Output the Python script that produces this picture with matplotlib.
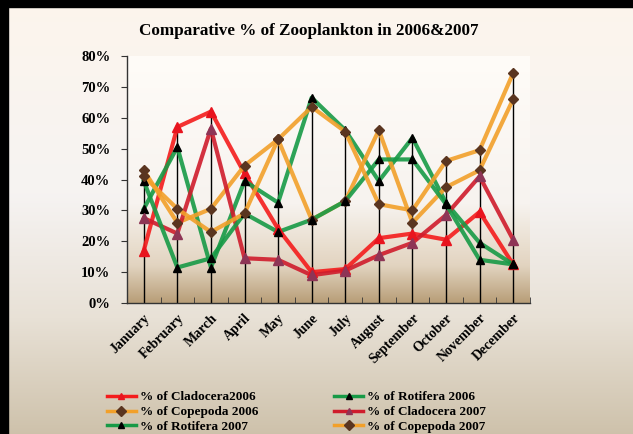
import numpy as np
import matplotlib

matplotlib.use('Agg')
import matplotlib.pyplot as plt
from matplotlib.patches import Rectangle
from matplotlib.lines import Line2D

months = ['January', 'February', 'March', 'April', 'May', 'June', 'July',
          'August', 'September', 'October', 'November', 'December']

clad06 = [17, 57, 62, 42, 24, 10, 11, 21, 22.5, 20.5, 29.5, 12.5]
clad07 = [27.5, 22.5, 56.5, 14.5, 14, 9, 10.5, 15.5, 19.5, 28.5, 41, 20.5]
rot06 = [30.5, 50.5, 11.5, 39.5, 32.5, 66.5, 56, 39.5, 53.5, 32.5, 19.5, 12.5]
rot07 = [39.5, 11.5, 14.5, 29, 23, 27, 33, 46.5, 46.5, 32, 14, 12.5]
cop06 = [43, 26, 30.5, 44.5, 53, 27, 33, 56, 26, 37.5, 43, 66]
cop07 = [41, 30.5, 23, 29, 53, 63.5, 55.5, 32, 30, 46, 49.5, 74.5]

yticks = [0, 10, 20, 30, 40, 50, 60, 70, 80]

serif = ['Liberation Serif', 'DejaVu Serif']
plt.rcParams['font.family'] = serif
plt.rcParams['font.weight'] = 'bold'


def gradient(stops, n=256):
    pos = [s[0] for s in stops]
    t = np.linspace(0, 1, n)
    cols = np.zeros((n, 2, 3))
    for c in range(3):
        cols[:, :, c] = np.interp(t, pos, [s[1][c] / 255 for s in stops])[:, None]
    return cols


fig = plt.figure(figsize=(6.33, 4.34), dpi=100, facecolor='#E6DED2')

# slide background
bg = fig.add_axes([-0.02, -0.02, 1.04, 1.04], zorder=-10)
bg.imshow(gradient([(0, (253, 245, 236)), (0.45, (246, 243, 242)),
                    (0.72, (232, 225, 214)), (1, (203, 190, 166))]),
          aspect='auto', extent=[0, 1, 0, 1], interpolation='bilinear')
bg.set_xlim(0.01, 0.99)
bg.set_ylim(0.01, 0.99)
bg.axis('off')
fig.patches.append(Rectangle((0, 0.985), 1, 0.015, transform=fig.transFigure,
                             color='black', zorder=5))
fig.patches.append(Rectangle((0, 0), 0.012, 1, transform=fig.transFigure,
                             color='black', zorder=5))

ax = fig.add_axes([0.2006, 0.3018, 0.6366, 0.5692])
ax.set_facecolor('none')
ax.imshow(gradient([(0, (255, 252, 248)), (0.6, (247, 243, 239)),
                    (0.85, (226, 212, 192)), (1, (184, 158, 120))]),
          aspect='auto', extent=[-0.5, 11.5, 0, 80], zorder=0,
          interpolation='bilinear')

x = np.arange(len(months))
tops = np.max([clad06, clad07, rot06, rot07, cop06, cop07], axis=0)
ax.vlines(x, 0, tops, color='black', lw=1, zorder=2)

series = [
    ('% of Cladocera2006', clad06, '#F41C1C', '^', '#E8141E', 7),
    ('% of Rotifera 2006', rot06, '#179A46', '^', 'black', 6),
    ('% of Copepoda 2006', cop06, '#F2A02A', 'D', '#5A3520', 5),
    ('% of Cladocera 2007', clad07, '#CF1C2C', '^', '#8E3556', 7),
    ('% of Rotifera 2007', rot07, '#179A46', '^', 'black', 6),
    ('% of Copepoda 2007', cop07, '#F2A02A', 'D', '#5A3520', 5),
]

handles = []
for label, vals, col, mk, mcol, ms in series:
    ax.plot(x, vals, color=col, lw=3, alpha=0.9, zorder=3,
            solid_joinstyle='round')
    ax.plot(x, vals, ls='none', marker=mk, ms=ms, color=mcol, mec=mcol,
            zorder=4)
    handles.append(Line2D([], [], color=col, lw=2.5, marker=mk, ms=5,
                          mfc=mcol, mec=mcol, label=label))

ax.set_xlim(-0.5, 11.5)
ax.set_ylim(0, 80)
ax.set_yticks(yticks)
ax.set_yticklabels([f'{v}%' for v in yticks], fontsize=10.5,
                   fontweight='bold')
ax.set_xticks(x)
ax.set_xticklabels(months, rotation=45, ha='right', va='top',
                   rotation_mode='anchor', fontsize=10, fontweight='bold')
ax.set_xticks(np.arange(-0.5, 12, 1), minor=True)
ax.tick_params(axis='x', which='major', length=0, pad=6)
ax.tick_params(axis='x', which='minor', direction='in', length=4,
               color='#333333')
ax.tick_params(axis='y', direction='out', length=4, color='#333333', pad=8)
for s in ['top', 'right']:
    ax.spines[s].set_visible(False)
for s in ['left', 'bottom']:
    ax.spines[s].set_color('#333333')
    ax.spines[s].set_linewidth(1)

fig.text(0.487, 0.929, 'Comparative % of Zooplankton in 2006&2007',
         ha='center', va='center', fontsize=12.3, fontweight='bold')

order = [0, 2, 4, 1, 3, 5]
fig.legend([handles[i] for i in order], [handles[i].get_label() for i in order],
           loc='upper left', bbox_to_anchor=(0.169, 0.099), ncol=2,
           frameon=False, fontsize=9.5, handlelength=2.2, handletextpad=0.3,
           labelspacing=0.2, columnspacing=5.75, borderaxespad=0,
           borderpad=0)

fig.savefig('out.png', dpi=100)
